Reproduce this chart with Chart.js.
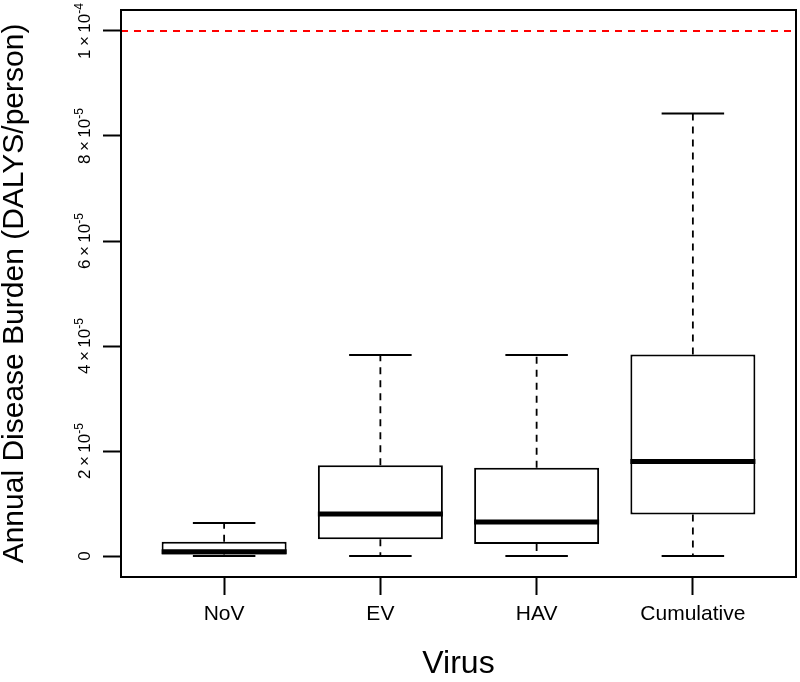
<!DOCTYPE html>
<html>
<head>
<meta charset="utf-8" />
<title>Annual Disease Burden</title>
<script src="https://cdn.jsdelivr.net/npm/chart.js@4.4.1/dist/chart.umd.min.js"></script>
<style>
  body { margin: 0; background: #fff; }
</style>
</head>
<body>
<canvas id="burden" width="800" height="682"></canvas>
<script>
// box statistics (DALYs/person per year)
var viruses      = ["NoV", "EV", "HAV", "Cumulative"];
var lowWhisker   = [0, 0, 0, 0];
var quart1       = [0.3e-6, 3.2e-6, 2.3e-6, 7.9e-6];
var medians      = [0.8e-6, 8.0e-6, 6.5e-6, 18.0e-6];
var quart3       = [2.7e-6, 17.3e-6, 16.8e-6, 38.4e-6];
var highWhisker  = [6.3e-6, 38.3e-6, 38.3e-6, 84.3e-6];
var yTicks       = [0, 2e-5, 4e-5, 6e-5, 8e-5, 1e-4];
var yTickLabels  = ["0", "2\u2009\u00d7\u200910^-5", "4\u2009\u00d7\u200910^-5", "6\u2009\u00d7\u200910^-5", "8\u2009\u00d7\u200910^-5", "1\u2009\u00d7\u200910^-4"];
var threshold    = 1e-4;

var xMin = 0.34, xMax = 4.66;
var boxHalf = 0.4, capHalf = 0.2;
var font = '"Liberation Sans", Arial, sans-serif';

// build segment lists (null points break the line between boxes)
var medianPts = [], capPts = [], whiskerPts = [], boxes = [];
viruses.forEach(function (v, i) {
  var x = i + 1;
  boxes.push({ x: x, y: [quart1[i], quart3[i]] });
  medianPts.push({ x: x - boxHalf, y: medians[i] }, { x: x + boxHalf, y: medians[i] }, { x: x, y: null });
  capPts.push({ x: x - capHalf, y: highWhisker[i] }, { x: x + capHalf, y: highWhisker[i] }, { x: x, y: null });
  capPts.push({ x: x - capHalf, y: lowWhisker[i] }, { x: x + capHalf, y: lowWhisker[i] }, { x: x, y: null });
  whiskerPts.push({ x: x, y: quart3[i] }, { x: x, y: highWhisker[i] }, { x: x, y: null });
  whiskerPts.push({ x: x, y: quart1[i] }, { x: x, y: lowWhisker[i] }, { x: x, y: null });
});

// rotated y tick labels with superscript exponent
var yLabels = {
  id: 'yLabels',
  afterDraw: function (chart) {
    var ctx = chart.ctx, ys = chart.scales.y;
    var mainFont = '17px ' + font, supFont = '12px ' + font;
    yTicks.forEach(function (v, i) {
      var parts = yTickLabels[i].split('^');
      ctx.save();
      ctx.translate(90, ys.getPixelForValue(v));
      ctx.rotate(-Math.PI / 2);
      ctx.fillStyle = '#000';
      ctx.textBaseline = 'alphabetic';
      ctx.textAlign = 'left';
      ctx.font = mainFont;
      var w1 = ctx.measureText(parts[0]).width, w2 = 0;
      if (parts[1]) { ctx.font = supFont; w2 = ctx.measureText(parts[1]).width; }
      var start = -(w1 + w2) / 2;
      ctx.font = mainFont;
      ctx.fillText(parts[0], start, 0);
      if (parts[1]) { ctx.font = supFont; ctx.fillText(parts[1], start + w1, -7); }
      ctx.restore();
    });
  }
};

// R style box round the plot region
var frame = {
  id: 'frame',
  afterDatasetsDraw: function (chart) {
    var a = chart.chartArea, ctx = chart.ctx;
    ctx.save();
    ctx.strokeStyle = '#000';
    ctx.lineWidth = 2;
    ctx.strokeRect(a.left, a.top, a.right - a.left, a.bottom - a.top);
    ctx.restore();
  }
};

var ctx = document.getElementById("burden").getContext("2d");
var chart = new Chart(ctx, {
  type: "bar",
  data: {
    datasets: [
      { type: "line", label: "median", data: medianPts, borderColor: "#000", borderWidth: 5,
        pointRadius: 0, spanGaps: false, order: 0, borderCapStyle: "butt" },
      { type: "bar", label: "IQR", data: boxes, backgroundColor: "#fff", borderColor: "#000",
        borderWidth: 2, borderSkipped: false, categoryPercentage: 1, barPercentage: 0.8, order: 1 },
      { type: "line", label: "caps", data: capPts, borderColor: "#000", borderWidth: 2,
        pointRadius: 0, spanGaps: false, order: 2 },
      { type: "line", label: "whiskers", data: whiskerPts, borderColor: "#000", borderWidth: 1.8,
        borderDash: [7, 6], pointRadius: 0, spanGaps: false, order: 2 },
      { type: "line", label: "threshold", data: [{ x: xMin, y: threshold }, { x: xMax, y: threshold }],
        borderColor: "#ff0000", borderWidth: 2, borderDash: [7, 6], pointRadius: 0, order: 3 }
    ]
  },
  options: {
    responsive: false,
    animation: false,
    devicePixelRatio: 1,
    layout: { padding: { top: 10, right: 4, left: 0, bottom: 0 } },
    plugins: { legend: { display: false }, tooltip: { enabled: false } },
    scales: {
      x: {
        type: "linear", min: xMin, max: xMax, offset: false,
        afterBuildTicks: function (s) { s.ticks = viruses.map(function (v, i) { return { value: i + 1 }; }); },
        afterFit: function (s) { s.height = 105; },
        grid: { offset: false, drawOnChartArea: false, drawTicks: true, tickLength: 18, tickWidth: 2, tickColor: "#000" },
        border: { display: false },
        ticks: {
          autoSkip: false, maxRotation: 0, padding: 9, color: "#000",
          font: { family: font, size: 21, lineHeight: 1 },
          callback: function (val, i) { return viruses[i]; }
        },
        title: { display: true, text: "Virus", color: "#000",
          font: { family: font, size: 32, lineHeight: 1 }, padding: { top: 0, bottom: 2 } }
      },
      y: {
        min: -4e-6, max: 1.04e-4,
        afterBuildTicks: function (s) { s.ticks = yTicks.map(function (v) { return { value: v }; }); },
        afterFit: function (s) { s.width = 121; },
        grid: { drawOnChartArea: false, drawTicks: true, tickLength: 18, tickWidth: 2, tickColor: "#000" },
        border: { display: false },
        ticks: { display: false },
        title: { display: true, text: "Annual Disease Burden (DALYS/person)", color: "#000",
          font: { family: font, size: 30, lineHeight: 1 }, padding: { top: 0, bottom: 0 } }
      }
    }
  },
  plugins: [yLabels, frame]
});
</script>
</body>
</html>
